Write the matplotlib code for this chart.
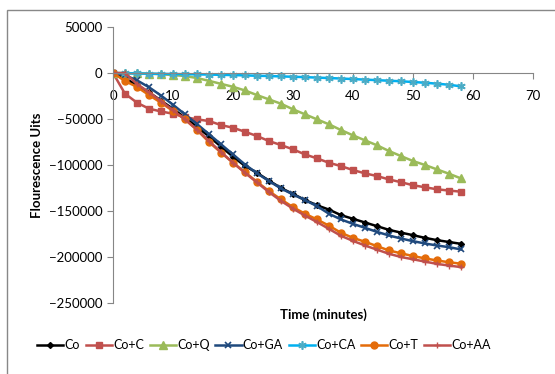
import matplotlib
matplotlib.use("Agg")
import matplotlib.pyplot as plt
from matplotlib.patches import Rectangle

plt.rcParams['font.family'] = ['Lato', 'DejaVu Sans']

# time points (minutes)
time = list(range(0, 60, 2))

co = [0, -6000, -13000, -21000, -30000, -39000, -48500, -58500, -69000, -80000,
      -91000, -101000, -108500, -117000, -125000, -131500, -138000, -143800, -148500, -154500,
      -158500, -162500, -166500, -170500, -173500, -176300, -179200, -181700, -183700, -185700]
co_c = [0, -22500, -32300, -38800, -41800, -44300, -47900, -50400, -52200, -56600,
        -59500, -63900, -68500, -74000, -78300, -83000, -88500, -92800, -97600, -101200,
        -105500, -109100, -112000, -115700, -118700, -122000, -124200, -126400, -127800, -129000]
co_q = [0, -200, -400, -700, -1400, -2200, -3300, -5500, -8500, -11800,
        -15000, -19000, -24000, -28700, -33400, -39500, -44900, -50400, -55800, -62000,
        -67800, -73200, -78600, -84800, -90300, -95700, -100000, -104800, -109500, -114600]
co_ga = [0, -2500, -8000, -15500, -24500, -34500, -45000, -55500, -66500, -77500,
         -88500, -99500, -109000, -117500, -125500, -132000, -138200, -144700, -153000, -159200,
         -164000, -168300, -172700, -176600, -179900, -182800, -185300, -187500, -189300, -191800]
co_ca = [0, -300, -500, -700, -900, -1100, -1300, -1500, -1700, -2000,
         -2300, -2600, -3000, -3300, -3700, -4100, -4500, -5000, -5500, -6000,
         -6600, -7200, -7800, -8400, -9000, -9800, -10600, -11600, -12800, -14500]
co_t = [0, -8700, -15200, -24000, -32300, -41300, -50400, -62000, -75000, -86500,
        -97500, -108000, -118300, -128400, -137400, -145800, -153000, -159200, -166000, -173700,
        -179200, -183500, -188200, -192900, -196000, -199000, -201500, -203800, -205700, -207300]
co_aa = [0, 0, -12000, -21000, -30500, -40500, -50500, -61500, -74000, -86000,
         -97500, -108500, -119000, -129500, -139000, -147500, -155000, -162000, -169500, -177000,
         -182500, -187500, -192000, -196500, -200000, -202500, -205000, -207500, -209300, -211000]

labels = ["Co", "Co+C", "Co+Q", "Co+GA", "Co+CA", "Co+T", "Co+AA"]

fig = plt.figure(figsize=(5.55, 3.74), dpi=100)
ax = fig.add_axes([113/555, 1-303/374, 420/555, 276/374])

ax.plot(time, co, color="black", marker="D", markersize=3, lw=1.8, label=labels[0])
ax.plot(time, co_c, color="#C0504D", marker="s", markersize=5, lw=1.8, label=labels[1])
ax.plot(time, co_q, color="#9BBB59", marker="^", markersize=5.5, lw=1.8, label=labels[2])
ax.plot(time, co_ga, color="#1F497D", marker="x", markersize=5, mew=1.2, lw=1.8, label=labels[3])
ax.plot(time, co_ca, color="#00B0F0", marker=(6, 2, 0), markersize=6, mec="#4BACC6", mew=1.2,
        lw=1.8, label=labels[4])
ax.plot(time, co_t, color="#E46C0A", marker="o", markersize=5, lw=1.8, label=labels[5])
ax.plot(time, co_aa, color="#C0504D", marker="+", markersize=5, mew=1, lw=1.8, label=labels[6])

ax.set_xlim(0, 70)
ax.set_ylim(-250000, 50000)
ax.set_xticks(range(0, 80, 10))
ax.set_yticks(range(-250000, 50001, 50000))

for s in ["top", "right"]:
    ax.spines[s].set_visible(False)
ax.spines["bottom"].set_position(("data", 0))
for s in ["left", "bottom"]:
    ax.spines[s].set_color("#868686")
ax.tick_params(colors="#868686", labelcolor="black", labelsize=9.5, length=4)
ax.tick_params(axis="x", pad=8)

ax.set_ylabel("Flourescence Uits", fontsize=9.5, fontweight="bold", labelpad=4)
fig.text(323/555, 1-315/374, "Time (minutes)", ha="center", va="center",
         fontsize=9.5, fontweight="bold")

fig.legend(loc="center", bbox_to_anchor=(264/555, 1-345/374), ncol=7, frameon=False,
           fontsize=9, handlelength=2.1, handletextpad=0.1, columnspacing=0.45,
           borderpad=0, borderaxespad=0)

fig.patches.append(Rectangle((7/555, -0.1), 1.2, 1.1 - 10/374, transform=fig.transFigure,
                             fill=False, edgecolor="#888888", lw=1))

fig.savefig("out.png", dpi=100)
